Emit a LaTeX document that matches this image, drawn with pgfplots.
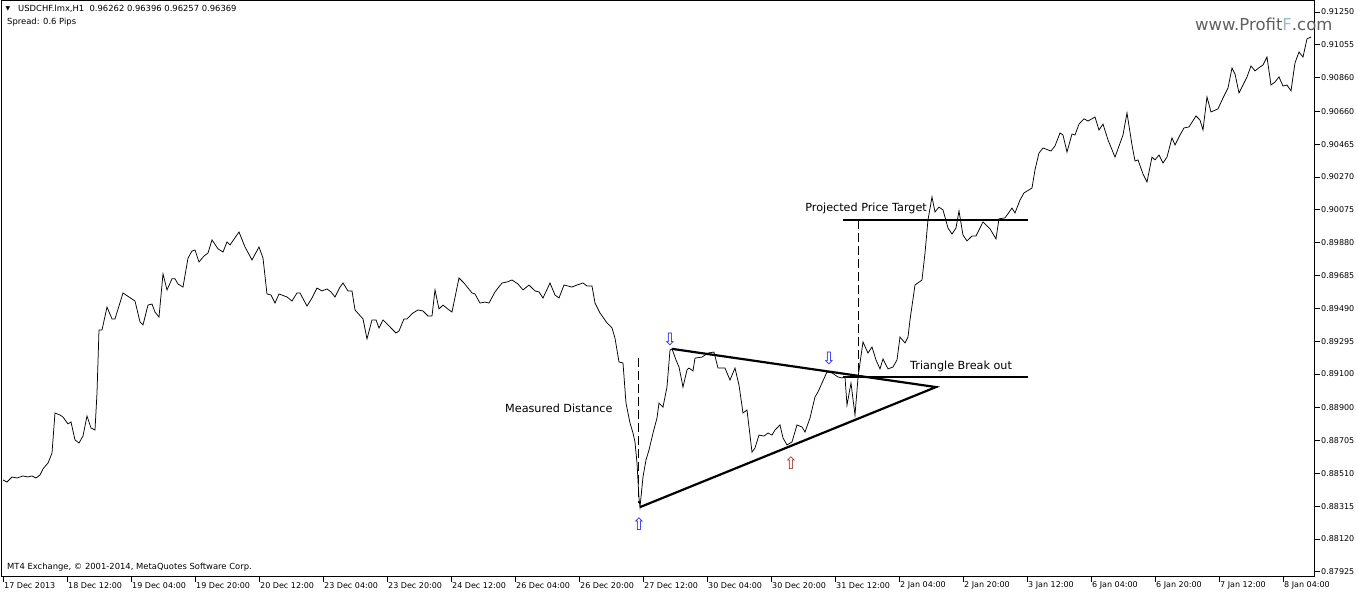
\documentclass[border=0pt]{standalone}
\usepackage{fontspec}
\setmainfont{DejaVu Sans}
\usepackage{pgfplots}
\pgfplotsset{compat=1.18}
\definecolor{arrowblue}{RGB}{40,40,240}
\definecolor{arrowred}{RGB}{170,50,50}
\definecolor{wmgray}{RGB}{95,95,95}
\definecolor{wmblue}{RGB}{160,185,195}
\begin{document}
\begin{tikzpicture}[x=1pt,y=1pt]
\path[use as bounding box] (0,0) rectangle (1358,594);
\begin{axis}[
    at={(2pt,17pt)}, anchor=south west,
    width=1313pt, height=576pt, scale only axis,
    xmin=-0.25, xmax=328, ymin=0.87894, ymax=0.91315,
    axis line style={line width=1pt},
    tick align=outside, major tick length=5pt,
    tick style={black, line width=0.8pt},
    xtick pos=left, ytick pos=right, yticklabel pos=right,
    font=\fontsize{8}{9}\selectfont,
    xtick={0,16,...,320},
    xticklabels={17 Dec 2013, 18 Dec 12:00, 19 Dec 04:00, 19 Dec 20:00, 20 Dec 12:00,
        23 Dec 04:00, 23 Dec 20:00, 24 Dec 12:00, 26 Dec 04:00, 26 Dec 20:00,
        27 Dec 12:00, 30 Dec 04:00, 30 Dec 20:00, 31 Dec 12:00, 2 Jan 04:00,
        2 Jan 20:00, 3 Jan 12:00, 6 Jan 04:00, 6 Jan 20:00, 7 Jan 12:00, 8 Jan 04:00},
    ytick={0.91250,0.91055,0.90860,0.90660,0.90465,0.90270,0.90075,0.89880,0.89685,
        0.89490,0.89295,0.89100,0.88900,0.88705,0.88510,0.88315,0.88120,0.87925},
    yticklabels={0.91250,0.91055,0.90860,0.90660,0.90465,0.90270,0.90075,0.89880,0.89685,
        0.89490,0.89295,0.89100,0.88900,0.88705,0.88510,0.88315,0.88120,0.87925},
    xticklabel style={anchor=west, inner sep=0pt, xshift=1pt, yshift=-3.5pt},
    yticklabel style={anchor=west, inner sep=0pt, xshift=1pt},
]
% USDCHF H1 close
\addplot[black, line width=0.75pt] coordinates {
(0,0.88470)(1,0.88458)(2.25,0.88488)(3.5,0.88482)(5,0.88494)(6.25,0.88488)(7.25,0.88494)
(8.25,0.88482)(9.25,0.88500)(10,0.88536)(11.25,0.88571)(12.25,0.88630)(13,0.88868)
(14.25,0.88856)(15,0.88844)(16.25,0.88803)(17,0.88815)(18,0.88708)(19,0.88690)(20,0.88731)
(21,0.88850)(22,0.88779)(23,0.88767)(23.5,0.88987)(24,0.89361)(24.75,0.89361)(26,0.89497)
(27.25,0.89427)(28,0.89427)(30,0.89581)(33,0.89533)(34.25,0.89409)(35,0.89391)(36.25,0.89509)
(37.25,0.89515)(38,0.89468)(39,0.89438)(40,0.89694)(41,0.89599)(42.25,0.89665)(43,0.89665)
(43.75,0.89634)(45,0.89616)(46.25,0.89788)(47.25,0.89830)(48,0.89836)(49,0.89765)(50.25,0.89800)
(51.25,0.89818)(52.25,0.89896)(53.75,0.89843)(55,0.89824)(56,0.89884)(56.75,0.89866)(59,0.89943)
(60.5,0.89854)(62.25,0.89777)(64,0.89854)(65,0.89788)(66,0.89575)(67,0.89569)(68,0.89521)
(69,0.89575)(71,0.89557)(72.25,0.89533)(73.5,0.89581)(74.25,0.89581)(76,0.89503)(77.25,0.89551)
(78.5,0.89610)(79.75,0.89593)(81,0.89605)(82,0.89587)(83,0.89557)(84.25,0.89616)(85,0.89640)
(86.25,0.89593)(87.25,0.89593)(88,0.89480)(90,0.89427)(91,0.89308)(92.25,0.89421)(93.25,0.89421)
(94,0.89373)(95,0.89421)(98.25,0.89343)(99,0.89355)(100.25,0.89427)(101,0.89427)(102.5,0.89462)
(103.75,0.89480)(105,0.89474)(106.25,0.89444)(107.25,0.89444)(108,0.89599)(109,0.89486)
(110,0.89509)(111.5,0.89480)(112.25,0.89468)(114,0.89670)(115.25,0.89640)(117.25,0.89581)
(118,0.89575)(119.25,0.89521)(120.5,0.89527)(121.5,0.89521)(123,0.89587)(124.75,0.89640)
(126,0.89646)(127.25,0.89658)(128.75,0.89634)(130,0.89599)(131.5,0.89628)(133,0.89593)
(134,0.89587)(135,0.89551)(136.75,0.89640)(138,0.89569)(139,0.89551)(140.25,0.89628)
(142.25,0.89616)(143.5,0.89628)(145,0.89640)(146,0.89622)(147.25,0.89622)(148,0.89521)
(149.25,0.89462)(151,0.89403)(152.25,0.89373)(153,0.89313)(154,0.89171)(155,0.89165)
(155.75,0.88927)(156.75,0.88809)(157.5,0.88749)(158,0.88696)(158.5,0.88571)(159,0.88363)
(159.25,0.88309)(160,0.88488)(160.75,0.88589)(161.5,0.88648)(162.5,0.88749)(163.5,0.88838)
(164,0.88927)(165,0.88903)(166,0.89022)(166.75,0.89242)(167.25,0.89249)(168.25,0.89183)
(169,0.89141)(170,0.89022)(171,0.89124)(171.5,0.89135)(172.5,0.89118)(173,0.89194)
(174.75,0.89200)(176.25,0.89224)(177.75,0.89230)(178.75,0.89135)(180.5,0.89135)(181.75,0.89064)
(183,0.89135)(184,0.89034)(185,0.88868)(186,0.88886)(187.25,0.88636)(188,0.88660)(189,0.88737)
(190.25,0.88731)(191.25,0.88749)(192.25,0.88737)(193,0.88767)(194.25,0.88797)(195,0.88720)
(196,0.88678)(197.25,0.88696)(198.5,0.88797)(199.75,0.88785)(200.5,0.88755)(201.75,0.88838)
(203,0.88963)(203.75,0.88993)(204.75,0.89046)(206,0.89112)(207.25,0.89106)(208.75,0.89082)
(209.75,0.89076)(210.5,0.89082)(211,0.88915)(212,0.89046)(213,0.88856)(213.75,0.89076)
(214.25,0.89165)(215,0.89290)(216.25,0.89224)(217.25,0.89260)(218.25,0.89183)(219.25,0.89130)
(220,0.89189)(221.25,0.89130)(222.5,0.89141)(223.5,0.89183)(224.25,0.89319)(225.5,0.89284)
(226.25,0.89319)(226.75,0.89421)(228,0.89628)(229.75,0.89658)(230.5,0.89818)(231.25,0.90015)
(232.25,0.90151)(233,0.90062)(234,0.90091)(235,0.90074)(236.25,0.89967)(237.25,0.89931)
(238.25,0.89967)(239,0.90068)(240,0.89925)(241,0.89890)(242.25,0.89919)(243.25,0.89919)
(245,0.90003)(246.75,0.89962)(248.25,0.89902)(249,0.90021)(250.5,0.90027)(252.25,0.90085)
(253,0.90056)(254.25,0.90133)(255.25,0.90175)(257.25,0.90204)(258,0.90312)(259,0.90412)
(260,0.90442)(262,0.90424)(263,0.90454)(264.25,0.90531)(265,0.90519)(266,0.90418)(267.25,0.90525)
(268,0.90519)(269,0.90584)(270.25,0.90615)(271.25,0.90602)(273,0.90626)(274,0.90549)(275,0.90584)
(276.25,0.90490)(278,0.90388)(280,0.90519)(281,0.90650)(282.25,0.90460)(283,0.90365)(283.75,0.90371)
(285,0.90288)(286,0.90240)(287.25,0.90388)(288,0.90371)(289,0.90400)(290,0.90353)(291,0.90388)
(292.25,0.90502)(293,0.90460)(294.25,0.90519)(295.25,0.90561)(296.5,0.90567)(298.25,0.90632)
(299.25,0.90608)(300,0.90549)(301,0.90745)(302,0.90656)(303.75,0.90674)(305,0.90739)(306.25,0.90798)
(307.25,0.90917)(308,0.90882)(309,0.90769)(310,0.90816)(311,0.90864)(312,0.90929)(313,0.90900)
(314.25,0.90923)(315,0.90935)(316,0.90982)(317,0.90816)(318,0.90834)(319,0.90864)(320,0.90810)
(321,0.90816)(322,0.90781)(323,0.90947)(324,0.91012)(325,0.90982)(326,0.91090)(327,0.91101)
};
% triangle
\addplot[black, line width=2.2pt, line join=miter] coordinates {
(167.25,0.89249)(233.25,0.89022)(159.25,0.88309)};
% target and breakout levels
\addplot[black, line width=2.2pt] coordinates {(210,0.90015)(256.25,0.90015)};
\addplot[black, line width=2.2pt] coordinates {(210,0.89082)(256.25,0.89082)};
% measured distances
\addplot[black, line width=1pt, dash pattern=on 9pt off 4pt] coordinates {(214,0.90015)(214,0.89082)};
\addplot[black, line width=1pt, dash pattern=on 9pt off 4pt] coordinates {(159,0.89195)(159,0.88333)};
% labels
\node[anchor=east, inner sep=0pt, font=\fontsize{11.2}{13}\selectfont] at (axis cs:231,0.90085) {Projected Price Target};
\node[anchor=west, inner sep=0pt, font=\fontsize{11.2}{13}\selectfont] at (axis cs:226.75,0.89147) {Triangle Break out};
\node[anchor=west, inner sep=0pt, font=\fontsize{11.2}{13}\selectfont] at (axis cs:125.5,0.88897) {Measured Distance};
% swing arrows
\node[inner sep=0pt, text=arrowblue, font=\fontsize{17}{17}\selectfont] at (axis cs:166.75,0.89302) {⇩};
\node[inner sep=0pt, text=arrowblue, font=\fontsize{17}{17}\selectfont] at (axis cs:206.5,0.89189) {⇩};
\node[inner sep=0pt, text=arrowred, font=\fontsize{17}{17}\selectfont] at (axis cs:197,0.88571) {⇧};
\node[inner sep=0pt, text=arrowblue, font=\fontsize{17}{17}\selectfont] at (axis cs:159,0.88209) {⇧};
\end{axis}
\node[anchor=center, inner sep=0pt, font=\fontsize{6}{6}\selectfont] at (8,585) {▼};
\node[anchor=west, inner sep=0pt, font=\fontsize{8.4}{9}\selectfont] at (18,585) {USDCHF.lmx,H1\ \ 0.96262 0.96396 0.96257 0.96369};
\node[anchor=west, inner sep=0pt, font=\fontsize{8.4}{9}\selectfont] at (7,572) {Spread: 0.6 Pips};
\node[anchor=west, inner sep=0pt, font=\fontsize{8.4}{9}\selectfont] at (7,27) {MT4 Exchange, © 2001-2014, MetaQuotes Software Corp.};
\node[anchor=west, inner sep=0pt, text=wmgray, font=\fontsize{16.5}{18}\selectfont] at (1195,570) {www.Profit\textcolor{wmblue}{F}.com};
\end{tikzpicture}
\end{document}
